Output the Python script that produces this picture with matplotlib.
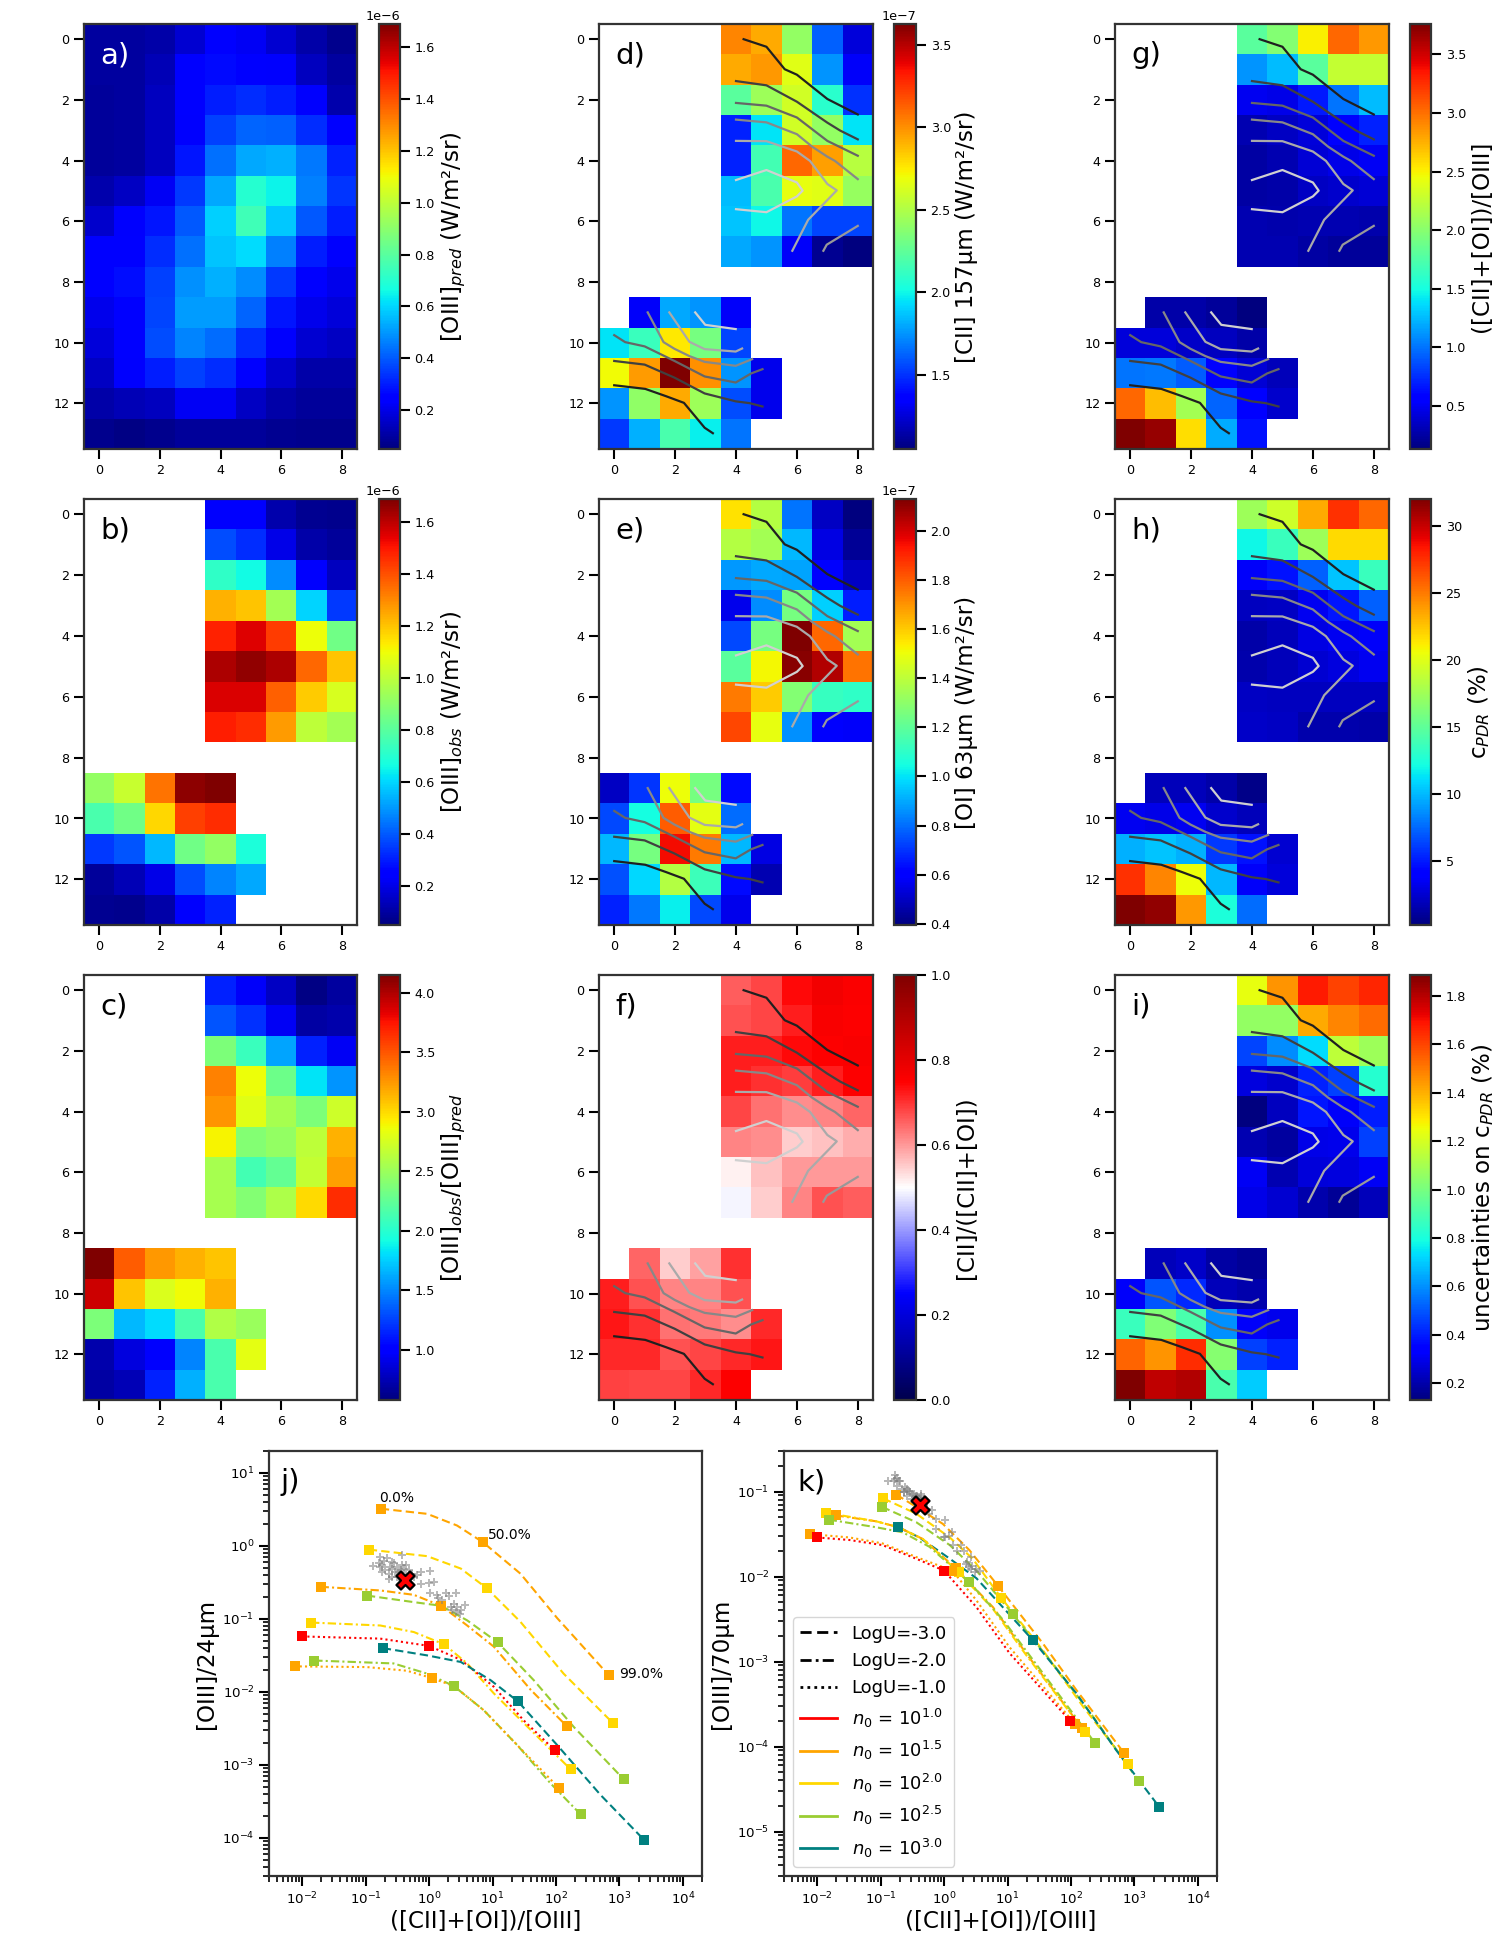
import numpy as np
import matplotlib
matplotlib.use("Agg")
import matplotlib.pyplot as plt
from matplotlib.lines import Line2D
from matplotlib.ticker import LogLocator, NullFormatter

n = np.nan
W, H = 1512.0, 1944.0

oiii_pred = [
 [.10,.10,.11,.17,.24,.22,.17,.11,.07],
 [.10,.10,.13,.24,.27,.26,.23,.14,.10],
 [.09,.10,.14,.24,.30,.33,.30,.23,.12],
 [.09,.10,.14,.23,.36,.42,.41,.33,.24],
 [.09,.10,.14,.29,.44,.53,.54,.45,.31],
 [.12,.15,.22,.35,.53,.70,.65,.46,.34],
 [.16,.23,.29,.40,.59,.75,.58,.40,.30],
 [.24,.26,.33,.44,.57,.61,.46,.30,.23],
 [.25,.28,.36,.49,.54,.48,.35,.24,.21],
 [.21,.26,.37,.51,.51,.42,.29,.21,.18],
 [.18,.25,.38,.47,.43,.33,.23,.17,.15],
 [.15,.23,.30,.36,.33,.25,.16,.11,.11],
 [.11,.13,.14,.22,.22,.15,.11,.09,.09],
 [.07,.06,.07,.09,.09,.09,.08,.07,.07]]
oiii_obs = [
 [n,n,n,n,.23,.23,.12,.08,.07],
 [n,n,n,n,.38,.33,.20,.11,.09],
 [n,n,n,n,.72,.66,.48,.23,.14],
 [n,n,n,n,1.23,1.20,.95,.60,.35],
 [n,n,n,n,1.48,1.55,1.44,1.10,.85],
 [n,n,n,n,1.62,1.66,1.62,1.36,1.20],
 [n,n,n,n,1.56,1.56,1.37,1.19,1.05],
 [n,n,n,n,1.49,1.46,1.27,1.00,.95],
 [n]*9,
 [.92,1.02,1.34,1.67,1.69,n,n,n,n],
 [.77,.85,1.17,1.43,1.46,n,n,n,n],
 [.35,.39,.55,.85,.92,.68,n,n,n],
 [.09,.13,.20,.38,.47,.53,n,n,n],
 [.08,.07,.11,.23,.31,n,n,n,n]]
oiii_ratio = [
 [n,n,n,n,1.15,.97,.80,.60,.68],
 [n,n,n,n,1.33,1.20,.95,.70,.72],
 [n,n,n,n,2.37,2.08,1.60,1.15,.95],
 [n,n,n,n,3.33,2.86,2.30,1.83,1.55],
 [n,n,n,n,3.26,2.80,2.55,2.37,2.72],
 [n,n,n,n,2.90,2.40,2.47,2.65,3.15],
 [n,n,n,n,2.55,2.12,2.26,2.68,3.22],
 [n,n,n,n,2.55,2.40,2.58,3.00,3.65],
 [n]*9,
 [4.15,3.47,3.25,3.15,3.08,n,n,n,n],
 [3.90,3.08,2.77,2.87,3.15,n,n,n,n],
 [2.37,1.68,1.80,2.15,2.60,2.50,n,n,n],
 [.72,.88,.98,1.50,2.15,2.82,n,n,n],
 [.70,.76,1.15,1.65,2.15,n,n,n,n]]
cii_157 = [
 [n,n,n,n,3.03,2.93,2.41,1.62,1.26],
 [n,n,n,n,2.93,2.98,2.65,1.75,1.33],
 [n,n,n,n,2.23,2.44,2.60,2.08,1.50],
 [n,n,n,n,1.46,1.95,2.60,2.41,1.95],
 [n,n,n,n,1.46,2.16,3.11,2.96,2.52],
 [n,n,n,n,1.85,2.18,2.67,2.65,2.42],
 [n,n,n,n,1.87,2.00,1.67,1.55,1.55],
 [n,n,n,n,1.80,1.75,1.33,1.10,1.05],
 [n]*9,
 [n,1.33,1.80,1.75,1.33,n,n,n,n],
 [1.95,2.13,2.75,2.32,1.55,n,n,n,n],
 [2.70,2.97,3.62,3.00,1.75,1.30,n,n,n],
 [1.75,2.40,2.93,2.44,1.57,1.30,n,n,n],
 [1.52,1.82,2.18,1.98,1.67,n,n,n,n]]
oi_63 = [
 [n,n,n,n,1.56,1.38,.81,.50,.40],
 [n,n,n,n,1.38,1.35,.93,.55,.43],
 [n,n,n,n,.87,.90,.89,.59,.50],
 [n,n,n,n,.56,.85,1.25,.97,.66],
 [n,n,n,n,.74,1.25,2.13,1.78,1.35],
 [n,n,n,n,1.19,1.52,2.11,2.05,1.76],
 [n,n,n,n,1.75,1.60,1.28,1.12,1.10],
 [n,n,n,n,1.84,1.49,.86,.59,.58],
 [n]*9,
 [.50,.70,1.50,1.25,.63,n,n,n,n],
 [.74,1.05,1.80,1.48,.80,n,n,n,n],
 [.93,1.25,1.95,1.75,.93,.55,n,n,n],
 [.75,.98,1.38,1.13,.63,.47,n,n,n],
 [.67,.82,1.02,.74,.56,n,n,n,n]]
cii_frac = [
 [n,n,n,n,.66,.68,.74,.77,.755],
 [n,n,n,n,.67,.68,.72,.76,.75],
 [n,n,n,n,.72,.72,.74,.75,.76],
 [n,n,n,n,.72,.70,.69,.72,.75],
 [n,n,n,n,.68,.64,.61,.62,.65],
 [n,n,n,n,.62,.61,.55,.56,.58],
 [n,n,n,n,.515,.56,.60,.60,.60],
 [n,n,n,n,.49,.55,.62,.67,.66],
 [n]*9,
 [n,.65,.55,.59,.70,n,n,n,n],
 [.72,.67,.62,.62,.67,n,n,n,n],
 [.73,.70,.64,.63,.61,.71,n,n,n],
 [.71,.71,.67,.68,.71,.73,n,n,n],
 [.685,.68,.68,.71,.75,n,n,n,n]]
pdr_ratio = [
 [n,n,n,n,1.80,1.98,2.50,3.03,2.85],
 [n,n,n,n,1.11,1.26,1.80,2.27,2.27],
 [n,n,n,n,.49,.47,.67,1.00,1.26],
 [n,n,n,n,.30,.35,.42,.53,.70],
 [n,n,n,n,.25,.30,.40,.47,.50],
 [n,n,n,n,.25,.27,.35,.38,.40],
 [n,n,n,n,.30,.28,.30,.30,.28],
 [n,n,n,n,.30,.30,.25,.22,.22],
 [n]*9,
 [n,.27,.26,.22,.14,n,n,n,n],
 [.42,.42,.36,.33,.27,n,n,n,n],
 [1.00,1.02,.92,.53,.40,.32,n,n,n],
 [3.03,2.70,2.12,.95,.55,.38,n,n,n],
 [3.76,3.68,2.57,1.20,.65,n,n,n,n]]
c_pdr = [
 [n,n,n,n,17.4,19.3,23.4,27.5,25.6],
 [n,n,n,n,12.0,13.6,17.4,21.8,21.8],
 [n,n,n,n,3.7,4.8,7.2,10.4,13.6],
 [n,n,n,n,2.0,2.2,3.4,4.9,7.2],
 [n,n,n,n,1.4,1.9,3.0,3.4,3.7],
 [n,n,n,n,1.5,1.9,2.5,2.9,3.4],
 [n,n,n,n,2.2,2.1,2.1,2.1,2.0],
 [n,n,n,n,2.3,2.2,1.6,1.5,1.4],
 [n]*9,
 [n,1.9,1.9,1.4,.5,n,n,n,n],
 [3.4,3.2,3.4,2.4,1.9,n,n,n,n],
 [9.7,10.4,9.7,6.0,4.8,2.5,n,n,n],
 [27.5,24.6,20.5,10.0,3.7,2.8,n,n,n],
 [32.0,31.5,24.0,12.5,7.6,n,n,n,n]]
c_pdr_err = [
 [n,n,n,n,1.24,1.45,1.68,1.60,1.66],
 [n,n,n,n,1.06,1.06,1.41,1.48,1.53],
 [n,n,n,n,.47,.59,.73,1.15,1.08],
 [n,n,n,n,.28,.25,.41,.46,.83],
 [n,n,n,n,.13,.23,.39,.32,.40],
 [n,n,n,n,.21,.18,.29,.30,.46],
 [n,n,n,n,.31,.21,.27,.28,.31],
 [n,n,n,n,.29,.26,.20,.17,.22],
 [n]*9,
 [n,.22,.24,.19,.17,n,n,n,n],
 [.32,.50,.42,.22,.20,n,n,n,n],
 [.87,1.02,.90,.60,.32,.30,n,n,n],
 [1.54,1.45,1.64,1.03,.46,.41,n,n,n],
 [1.887,1.79,1.81,.90,.70,n,n,n,n]]

# contour traces: x, y in image cells
contour_upper = [
 ('#202020', [4.25,5,5.6,6,6.5,7,8], [0,.25,.99,1.17,1.57,1.97,2.48]),
 ('#404040', [4,5,6,7,7.42,8], [1.38,1.52,2.06,2.75,3.01,3.3]),
 ('#666666', [4,5,6,7,8], [2.1,2.19,2.58,3.35,3.84]),
 ('#888888', [4,5,6,6.5,7,7.25,8], [2.65,2.74,3.13,3.54,3.87,4.01,4.61]),
 ('#aaaaaa', [4,5,6,6.43,7,7.31,6.37,5.85], [3.35,3.36,3.7,4.01,4.77,4.98,5.95,6.97]),
 ('#d0d0d0', [4,5,6,6.19,6,5,4], [4.64,4.31,4.72,4.99,5.18,5.7,5.6]),
 ('#999999', [6.87,6.98,8], [6.97,6.77,6.15])]
contour_lower = [
 ('#202020', [0,1.02,1.7,2.29,2.97,3.24], [11.4,11.52,11.76,11.98,12.8,12.98]),
 ('#404040', [0,1,1.98,2.97,3.99,4.45,4.87], [10.6,10.72,11.15,11.67,11.93,11.99,12.1]),
 ('#666666', [0,.36,1,1.98,2.97,3.99,4.5,4.87], [9.75,9.98,10.12,10.6,11.11,11.31,11.01,10.87]),
 ('#888888', [1.1,1.62,1.98,2.47,2.97,3.99,4.53], [9,9.98,10.2,10.44,10.63,10.76,10.54]),
 ('#aaaaaa', [1.81,2.47,2.97,3.99,4.2], [9,9.97,10.21,10.29,10.19]),
 ('#d0d0d0', [2.66,2.99,3.99], [9,9.41,9.55])]

# model tracks as log10 x, log10 y, index of the 50% marker
col_n = {1.0:'red', 1.5:'orange', 2.0:'gold', 2.5:'yellowgreen', 3.0:'teal'}
ls_u = {-3:(0,(4,2)), -2:(0,(4,1.5,1,1.5)), -1:(0,(1,1.5))}
tracks_j = [
 (1.5,-3,3,[-.76,-.03,.44,.85,1.44,2.02,2.83],[.51,.44,.28,.05,-.38,-.99,-1.77]),
 (2.0,-3,3,[-.95,-.03,.50,.91,1.44,2.12,2.90],[-.05,-.14,-.31,-.58,-1.04,-1.75,-2.43]),
 (1.5,-2,3,[-1.71,-.77,-.24,.19,.60,1.02,1.60,2.17],[-.56,-.61,-.67,-.82,-1.09,-1.38,-1.97,-2.47]),
 (2.5,-3,4,[-.98,-.24,.19,.60,1.08,1.65,2.28,3.07],[-.68,-.77,-.82,-1.02,-1.32,-1.84,-2.48,-3.20]),
 (2.0,-2,3,[-1.86,-.77,-.24,.24,.60,1.02,1.60,2.23],[-1.05,-1.09,-1.18,-1.35,-1.61,-2.02,-2.52,-3.06]),
 (1.0,-1,2,[-2.0,-.77,0,.50,1.02,1.49,1.98],[-1.24,-1.27,-1.37,-1.56,-1.93,-2.39,-2.80]),
 (3.0,-3,4,[-.73,-.03,.50,.97,1.40,2.02,2.70,3.39],[-1.40,-1.50,-1.59,-1.84,-2.13,-2.73,-3.41,-4.03]),
 (2.5,-2,3,[-1.81,-.56,-.03,.39,.86,1.39,1.91,2.39],[-1.57,-1.61,-1.75,-1.92,-2.25,-2.73,-3.25,-3.68]),
 (1.5,-1,3,[-2.12,-.98,-.35,.04,.39,.86,1.39,2.05],[-1.65,-1.66,-1.71,-1.81,-1.92,-2.25,-2.73,-3.32])]
tracks_k = [
 (1.5,-3,4,[-.755,-.44,-.02,.40,.85,1.56,2.08,2.83],[-1.035,-1.18,-1.38,-1.69,-2.11,-2.79,-3.33,-4.07]),
 (2.0,-3,4,[-.96,-.44,.09,.45,.90,1.56,2.19,2.90],[-1.08,-1.26,-1.54,-1.79,-2.25,-2.87,-3.53,-4.21]),
 (2.5,-3,4,[-.98,-.44,.09,.51,1.08,1.71,2.35,3.07],[-1.18,-1.36,-1.63,-1.93,-2.44,-3.02,-3.65,-4.41]),
 (3.0,-3,4,[-.72,-.39,.09,.51,1.40,2.08,2.71,3.39],[-1.42,-1.54,-1.79,-2.02,-2.75,-3.37,-4.04,-4.71]),
 (1.5,-2,4,[-1.71,-1.07,-.72,-.33,.18,.77,1.29,2.17],[-1.28,-1.35,-1.42,-1.56,-1.90,-2.36,-2.90,-3.78]),
 (2.0,-2,4,[-1.86,-1.07,-.72,-.33,.23,.77,1.29,2.22],[-1.25,-1.35,-1.42,-1.56,-1.95,-2.38,-2.92,-3.83]),
 (2.5,-2,4,[-1.82,-1.07,-.65,-.23,.39,.93,1.56,2.38],[-1.33,-1.42,-1.48,-1.65,-2.06,-2.51,-3.14,-3.96]),
 (1.5,-1,4,[-2.12,-1.49,-.97,-.44,.13,.51,1.03,2.06],[-1.50,-1.54,-1.61,-1.77,-1.93,-2.28,-2.83,-3.73]),
 (1.0,-1,4,[-2.0,-1.49,-.97,-.44,0,.51,1.03,1.99],[-1.54,-1.57,-1.63,-1.79,-1.93,-2.36,-2.90,-3.70])]

# observed pixels (log10)
obs_x = [-.89,-.77,-.66,-.42,-.79,-.74,-.58,-.50,-.42,-.37,-.74,-.69,-.63,-.58,-.53,-.48,-.32,-.27,-.63,-.58,
 -.50,-.42,-.37,-.32,-.24,-.135,.01,-.135,0,.075,.02,.13,.14,.26,.31,.42,.21,.34,.40,.44,.57,.50,.42,.49,.36,
 -.61,-.56,-.71,-.45,-.40,-.77,-.19]
obs_y24 = [-.28,-.15,-.17,-.12,-.24,-.26,-.22,-.29,-.26,-.26,-.355,-.33,-.38,-.31,-.355,-.355,-.33,-.38,-.45,-.42,
 -.42,-.47,-.40,-.45,-.42,-.355,-.345,-.52,-.51,-.49,-.65,-.67,-.71,-.64,-.68,-.64,-.74,-.83,-.79,-.83,-.81,-.88,-.90,-.93,-.88,
 -.29,-.24,-.20,-.33,-.31,-.29,-.40]
obs_y70 = [-.87,-.80,-.97,-1.05,-.87,-.84,-.97,-1.03,-1.07,-1.05,-.93,-.87,-1.01,-.99,-1.0,-1.03,-1.09,-1.20,-1.0,-1.05,
 -1.09,-1.125,-1.03,-1.16,-1.26,-1.32,-1.33,-1.44,-1.54,-1.52,-1.54,-1.47,-1.63,-1.63,-1.70,-1.77,-1.70,-1.85,-1.89,-1.87,-1.93,-1.91,-1.91,-1.95,-1.83,
 -.95,-.99,-.87,-1.05,-1.07,-.85,-1.22]
mean_x, mean_y24, mean_y70 = -.38, -.46, -1.164

plt.rcParams.update({'font.family':'DejaVu Sans','font.size':10,
                     'axes.edgecolor':'#333333','axes.linewidth':1.6})

def add_ax(x0, x1, y0, y1):
    return fig.add_axes([x0/W, 1-y1/H, (x1-x0)/W, (y1-y0)/H])

fig = plt.figure(figsize=(15.12,19.44), dpi=100)

col_x = [(84,357,379,400),(599,873,894,916),(1115,1389,1410,1431)]
row_y = [(24,449),(499,925),(975,1400)]
LS = 16.6
TS = 9.2

panels = [
 (0,0,'a)',oiii_pred,1e-6,.05,1.69,'jet','[OIII]$_{pred}$ (W/m²/sr)',[.2,.4,.6,.8,1.,1.2,1.4,1.6],False,'white'),
 (0,1,'b)',oiii_obs,1e-6,.05,1.69,'jet','[OIII]$_{obs}$ (W/m²/sr)',[.2,.4,.6,.8,1.,1.2,1.4,1.6],False,'black'),
 (0,2,'c)',oiii_ratio,1,.58,4.15,'jet','[OIII]$_{obs}$/[OIII]$_{pred}$',[1,1.5,2,2.5,3,3.5,4],False,'black'),
 (1,0,'d)',cii_157,1e-7,1.05,3.625,'jet','[CII] 157µm (W/m²/sr)',[1.5,2,2.5,3,3.5],True,'black'),
 (1,1,'e)',oi_63,1e-7,.395,2.13,'jet','[OI] 63µm (W/m²/sr)',[.4,.6,.8,1.,1.2,1.4,1.6,1.8,2.],True,'black'),
 (1,2,'f)',cii_frac,1,0,1,'seismic','[CII]/([CII]+[OI])',[0,.2,.4,.6,.8,1.],True,'black'),
 (2,0,'g)',pdr_ratio,1,.13,3.76,'jet','([CII]+[OI])/[OIII]',[.5,1,1.5,2,2.5,3,3.5],True,'black'),
 (2,1,'h)',c_pdr,1,.25,32,'jet','c$_{PDR}$ (%)',[5,10,15,20,25,30],True,'black'),
 (2,2,'i)',c_pdr_err,1,.13,1.887,'jet','uncertainties on c$_{PDR}$ (%)',[.2,.4,.6,.8,1.,1.2,1.4,1.6,1.8],True,'black'),
]

for c, r, tag, grid, scale, vmin, vmax, cmap, label, ticks, contours, tagcol in panels:
    x0,x1,cx0,cx1 = col_x[c]; y0,y1 = row_y[r]
    ax = add_ax(x0,x1,y0,y1)
    im = ax.imshow(np.array(grid,float)*scale, cmap=cmap, vmin=vmin*scale, vmax=vmax*scale,
                   aspect='auto', interpolation='nearest')
    ax.set_xticks([0,2,4,6,8]); ax.set_yticks([0,2,4,6,8,10,12])
    ax.tick_params(length=7, width=1.5, labelsize=TS, color='black')
    if contours:
        for col,xs,ys in contour_upper+contour_lower:
            ax.plot(xs,ys,color=col,lw=1.6)
        ax.set_xlim(-.5,8.5); ax.set_ylim(13.5,-.5)
    ax.text(.06,.908,tag,transform=ax.transAxes,fontsize=21,color=tagcol,ha='left',va='baseline')
    cax = add_ax(cx0,cx1,y0,y1)
    cb = fig.colorbar(im, cax=cax)
    cb.set_ticks([t*scale for t in ticks])
    cb.ax.tick_params(length=7, width=1.5, labelsize=TS, color='black')
    cb.ax.yaxis.get_offset_text().set_fontsize(TS)
    cb.outline.set_edgecolor('#333333'); cb.outline.set_linewidth(1.6)
    cb.set_label(label, fontsize=LS, labelpad=3)

def log_axes(ax, xlim, ylim):
    ax.set_xscale('log'); ax.set_yscale('log')
    ax.set_xlim(*xlim); ax.set_ylim(*ylim)
    ax.xaxis.set_major_locator(LogLocator(base=10,numticks=15))
    ax.yaxis.set_major_locator(LogLocator(base=10,numticks=15))
    ax.xaxis.set_minor_locator(LogLocator(base=10,subs=np.arange(2,10)*.1,numticks=15))
    ax.yaxis.set_minor_locator(LogLocator(base=10,subs=np.arange(2,10)*.1,numticks=15))
    ax.xaxis.set_minor_formatter(NullFormatter()); ax.yaxis.set_minor_formatter(NullFormatter())
    ax.tick_params(which='major',length=7,width=1.5,labelsize=9.6,color='black')
    ax.tick_params(which='minor',length=4,width=1.2,color='black')
    ax.set_xlabel('([CII]+[OI])/[OIII]',fontsize=LS,labelpad=2)

def draw_tracks(ax, tracks, oy, my):
    for nh,u,mid,lx,ly in tracks:
        xs,ys = 10**np.array(lx),10**np.array(ly)
        ax.plot(xs,ys,color=col_n[nh],ls=ls_u[u],lw=1.5,zorder=2)
        idx=[0,mid,len(xs)-1]
        ax.plot(xs[idx],ys[idx],ls='none',marker='s',ms=6.6,color=col_n[nh],mew=0,zorder=3)
    ax.scatter(10**np.array(obs_x),10**np.array(oy),marker='P',s=28,color='gray',alpha=.55,lw=0,zorder=4)
    ax.scatter([10**mean_x],[10**my],marker='X',s=170,color='red',edgecolor='black',lw=1.6,zorder=5)

axj = add_ax(269,702,1451,1876)
log_axes(axj,(3e-3,2e4),(3e-5,20))
draw_tracks(axj,tracks_j,obs_y24,mean_y24)
axj.set_ylabel('[OIII]/24µm',fontsize=LS,labelpad=3)
axj.text(.026,.908,'j)',transform=axj.transAxes,fontsize=21,va='baseline')
axj.text(.162,4.0,'0.0%',fontsize=10)
axj.text(8.5,1.24,'50.0%',fontsize=10)
axj.text(980,.0156,'99.0%',fontsize=10)

axk = add_ax(784,1217,1451,1876)
log_axes(axk,(3e-3,2e4),(3e-6,.3))
draw_tracks(axk,tracks_k,obs_y70,mean_y70)
axk.set_ylabel('[OIII]/70µm',fontsize=LS,labelpad=3)
axk.text(.03,.908,'k)',transform=axk.transAxes,fontsize=21,va='baseline')

handles = [Line2D([],[],color='k',ls=ls_u[u],lw=2,label=f'LogU={u:.1f}') for u in (-3,-2,-1)]
handles += [Line2D([],[],color=col_n[h],lw=2,label=rf'$n_0$ = $10^{{{h:.1f}}}$') for h in (1.0,1.5,2.0,2.5,3.0)]
axk.legend(handles=handles,loc='lower left',fontsize=13,bbox_to_anchor=(0.0,0.0),
           borderaxespad=.5,labelspacing=.52,borderpad=.4,handlelength=2.05)

fig.savefig('out.png',dpi=100)
